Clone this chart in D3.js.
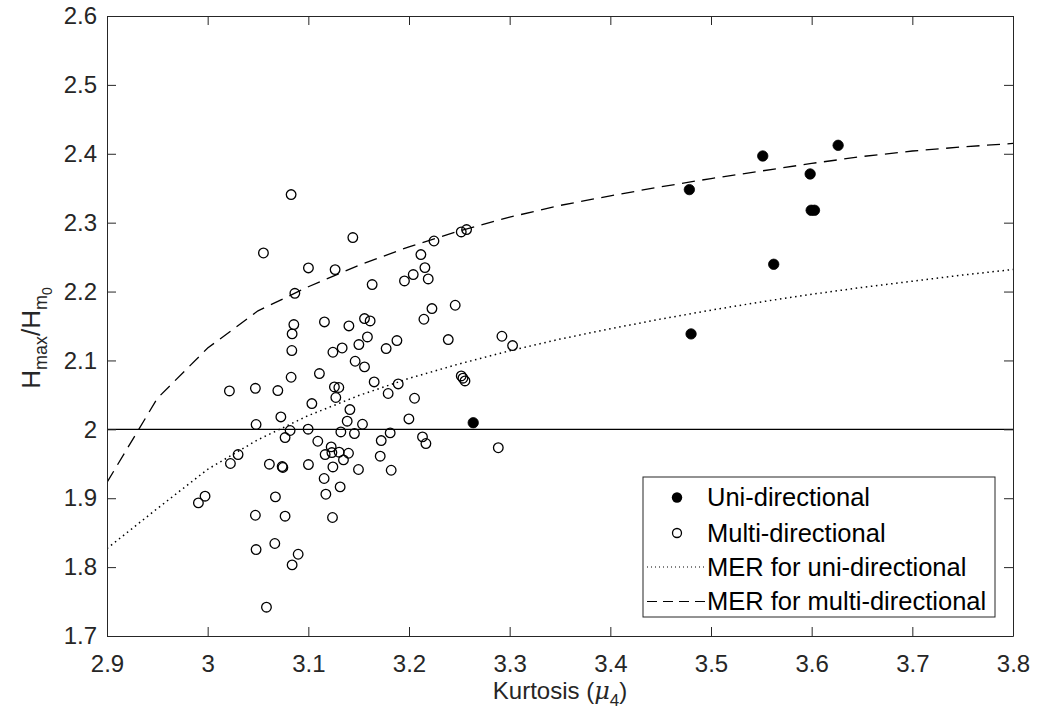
<!DOCTYPE html>
<html>
<head>
<meta charset="utf-8">
<script src="https://cdn.jsdelivr.net/npm/d3@7"></script>
<style>
  html, body { margin: 0; padding: 0; background: #fff; }
  svg { display: block; font-family: "Liberation Sans", Arial, Helvetica, sans-serif; }
</style>
</head>
<body>
<svg id="chart" width="1037" height="718"></svg>
<script>
// ---------------- data ----------------
const xTicks = [2.9, 3.0, 3.1, 3.2, 3.3, 3.4, 3.5, 3.6, 3.7, 3.8];
const xTickLabels = ["2.9", "3", "3.1", "3.2", "3.3", "3.4", "3.5", "3.6", "3.7", "3.8"];
const yTicks = [1.7, 1.8, 1.9, 2.0, 2.1, 2.2, 2.3, 2.4, 2.5, 2.6];
const yTickLabels = ["1.7", "1.8", "1.9", "2", "2.1", "2.2", "2.3", "2.4", "2.5", "2.6"];

const uniKurt  = [3.4785, 3.5514, 3.6263, 3.5985, 3.5995, 3.6028, 3.5623, 3.4802, 3.2638];
const uniRatio = [2.348, 2.3968, 2.4123, 2.3707, 2.318, 2.318, 2.2396, 2.1385, 2.0096];

const multiKurt = [
  3.0829, 3.1442, 3.0554, 3.1001, 3.1266, 3.1634, 3.0866, 3.0856, 3.0839, 3.1160,
  3.1403, 3.1558, 3.1614, 3.1587, 3.1502, 3.1336, 3.1244, 3.0836, 3.1465, 3.1558,
  3.1110, 3.0829, 3.0216, 3.0474, 3.0697, 3.1259, 3.1303, 3.1273, 3.1654, 3.1035,
  3.1413, 3.0727, 3.0481, 3.1386, 3.1538, 3.0819, 3.0998, 3.1323, 3.1458, 3.1724,
  3.0769, 3.1094, 3.1227, 3.1167, 3.1234, 3.1306, 3.1399, 3.1349, 3.1714, 3.0302,
  3.0226, 3.0613, 3.0740, 3.0747, 3.1001, 3.1244, 3.1498, 3.1157, 3.1316, 3.1174,
  2.9974, 2.9908, 3.0673, 3.0474, 3.0769, 3.1240, 3.0667, 3.0481, 3.0899, 3.0839,
  3.0584, 3.2118, 3.2248, 3.2519, 3.2572, 3.2158, 3.2042, 3.1955, 3.2191, 3.2228,
  3.2148, 3.2459, 3.1773, 3.1880, 3.2390, 3.2923, 3.3029, 3.1893, 3.1793, 3.2055,
  3.2519, 3.2536, 3.2556, 3.1999, 3.1813, 3.2134, 3.2168, 3.2887, 3.1823
];
const multiRatio = [
  2.3408, 2.2784, 2.2560, 2.2343, 2.2319, 2.2102, 2.1975, 2.1521, 2.1385, 2.1559,
  2.1501, 2.1608, 2.1573, 2.1341, 2.1231, 2.1181, 2.1119, 2.1144, 2.0988, 2.0906,
  2.0810, 2.0756, 2.0557, 2.0596, 2.0563, 2.0615, 2.0607, 2.0462, 2.0688, 2.0374,
  2.0287, 2.0180, 2.0070, 2.0118, 2.0074, 1.9983, 2.0002, 1.9962, 1.9939, 1.9837,
  1.9881, 1.9827, 1.9745, 1.9634, 1.9663, 1.9668, 1.9653, 1.9556, 1.9610, 1.9634,
  1.9504, 1.9494, 1.9460, 1.9446, 1.9489, 1.9454, 1.9417, 1.9286, 1.9164, 1.9058,
  1.9029, 1.8932, 1.9019, 1.8753, 1.8739, 1.8720, 1.8343, 1.8255, 1.8187, 1.8032,
  1.7418, 2.2537, 2.2734, 2.2865, 2.2900, 2.2348, 2.2247, 2.2154, 2.2183, 2.1753,
  2.1598, 2.1801, 2.1173, 2.1289, 2.1303, 2.1351, 2.1216, 2.0659, 2.0520, 2.0451,
  2.0775, 2.0742, 2.0702, 2.0151, 1.9948, 1.9890, 1.9794, 1.9733, 1.9406
];

const merKurt  = [2.9, 2.95, 3.0, 3.05, 3.1, 3.15, 3.2, 3.25, 3.3, 3.35, 3.4, 3.45, 3.5, 3.55, 3.6, 3.65, 3.7, 3.75, 3.8];
const merUni   = [1.827, 1.885, 1.942, 1.985, 2.020, 2.049, 2.074, 2.095, 2.114, 2.131, 2.146, 2.160, 2.173, 2.185, 2.196, 2.206, 2.215, 2.224, 2.232];
const merMulti = [1.923, 2.045, 2.118, 2.172, 2.207, 2.238, 2.265, 2.288, 2.308, 2.325, 2.339, 2.352, 2.364, 2.375, 2.386, 2.396, 2.404, 2.410, 2.415];

const refLine = 2.0;
const legendLabels = ["Uni-directional", "Multi-directional", "MER for uni-directional", "MER for multi-directional"];

// ---------------- layout ----------------
const L = 107, R = 1013, T = 16, B = 636;
const svg = d3.select("#chart");
const x = d3.scaleLinear().domain([2.9, 3.8]).range([L, R]);
const y = d3.scaleLinear().domain([1.7, 2.6]).range([B, T]);
const axisColor = "#262626";
const tickFont = 24;

svg.append("rect").attr("x", 0).attr("y", 0).attr("width", 1037).attr("height", 718).attr("fill", "#fff");

svg.append("clipPath").attr("id", "clip").append("rect")
  .attr("x", L).attr("y", T).attr("width", R - L).attr("height", B - T);

const plot = svg.append("g").attr("clip-path", "url(#clip)");

// reference line y = 2
plot.append("line")
  .attr("x1", x(2.9)).attr("x2", x(3.8))
  .attr("y1", y(refLine)).attr("y2", y(refLine))
  .attr("stroke", "#000").attr("stroke-width", 1.1);

// MER curves
const merLine = d3.line().x((d, i) => x(merKurt[i])).y(d => y(d));
plot.append("path").datum(merUni)
  .attr("d", merLine).attr("fill", "none")
  .attr("stroke", "#000").attr("stroke-width", 1.5)
  .attr("stroke-dasharray", "1.5,3.6");
plot.append("path").datum(merMulti)
  .attr("d", merLine).attr("fill", "none")
  .attr("stroke", "#000").attr("stroke-width", 1.3)
  .attr("stroke-dasharray", "13,7.5");

// multi points (open)
plot.append("g").selectAll("circle")
  .data(multiKurt.map((k, i) => [k, multiRatio[i]]))
  .join("circle")
  .attr("cx", d => x(d[0])).attr("cy", d => y(d[1]))
  .attr("r", 4.8)
  .attr("fill", "none").attr("stroke", "#000").attr("stroke-width", 1.3);

// uni points (filled)
plot.append("g").selectAll("circle")
  .data(uniKurt.map((k, i) => [k, uniRatio[i]]))
  .join("circle")
  .attr("cx", d => x(d[0])).attr("cy", d => y(d[1]))
  .attr("r", 5.2)
  .attr("fill", "#000").attr("stroke", "#000").attr("stroke-width", 0.8);

// axes
const tickLen = 9;
const xAxisB = d3.axisBottom(x).tickValues(xTicks).tickFormat((d, i) => xTickLabels[i]).tickSizeInner(-tickLen).tickSizeOuter(0).tickPadding(19);
const xAxisT = d3.axisTop(x).tickValues(xTicks).tickFormat("").tickSizeInner(-tickLen).tickSizeOuter(0);
const yAxisL = d3.axisLeft(y).tickValues(yTicks).tickFormat((d, i) => yTickLabels[i]).tickSizeInner(-tickLen).tickSizeOuter(0).tickPadding(10);
const yAxisR = d3.axisRight(y).tickValues(yTicks).tickFormat("").tickSizeInner(-tickLen).tickSizeOuter(0);

function styleAxis(g) {
  g.select(".domain").attr("stroke", axisColor).attr("stroke-width", 1);
  g.selectAll(".tick line").attr("stroke", axisColor).attr("stroke-width", 1);
  g.selectAll(".tick text").attr("fill", axisColor)
    .style("font-size", tickFont + "px")
    .style("font-family", '"Liberation Sans", Arial, sans-serif');
}
svg.append("g").attr("transform", `translate(0,${B})`).call(xAxisB).call(styleAxis);
svg.append("g").attr("transform", `translate(0,${T})`).call(xAxisT).call(styleAxis);
svg.append("g").attr("transform", `translate(${L},0)`).call(yAxisL).call(styleAxis);
svg.append("g").attr("transform", `translate(${R},0)`).call(yAxisR).call(styleAxis);

// x label
const xl = svg.append("text")
  .attr("x", (L + R) / 2).attr("y", 699)
  .attr("text-anchor", "middle")
  .attr("fill", axisColor)
  .style("font-size", "24px");
xl.append("tspan").text("Kurtosis (");
xl.append("tspan").text("\u03BC").style("font-style", "italic").style("font-family", '"DejaVu Serif", serif');
xl.append("tspan").text("4").attr("dy", 7).style("font-size", "17px");
xl.append("tspan").text(")").attr("dy", -7);

// y label
const yl = svg.append("text")
  .attr("transform", `translate(40,${(T + B) / 2 + 12}) rotate(-90)`)
  .attr("text-anchor", "middle")
  .attr("fill", axisColor)
  .style("font-size", "26px");
yl.append("tspan").text("H");
yl.append("tspan").text("max").attr("dy", 7).style("font-size", "18px");
yl.append("tspan").text("/H").attr("dy", -7);
yl.append("tspan").text("m").attr("dy", 7).style("font-size", "18px");
yl.append("tspan").text("0").attr("dy", 5).style("font-size", "14px");

// legend
const lg = svg.append("g");
const lgX = 643, lgY = 477, lgW = 352, lgH = 140;
lg.append("rect").attr("x", lgX).attr("y", lgY).attr("width", lgW).attr("height", lgH)
  .attr("fill", "#fff").attr("stroke", axisColor).attr("stroke-width", 1);
const rowY = [497.5, 533, 567, 601.5];
const textX = 707;
legendLabels.forEach((t, i) => {
  lg.append("text").attr("x", textX).attr("y", rowY[i]).attr("dy", "0.35em")
    .attr("fill", "#000").style("font-size", "25.5px").text(t);
});
lg.append("circle").attr("cx", 677).attr("cy", rowY[0]).attr("r", 5.2).attr("fill", "#000");
lg.append("circle").attr("cx", 677).attr("cy", rowY[1]).attr("r", 4.5).attr("fill", "none").attr("stroke", "#000").attr("stroke-width", 1.3);
lg.append("line").attr("x1", 647).attr("x2", 705).attr("y1", rowY[2]).attr("y2", rowY[2])
  .attr("stroke", "#000").attr("stroke-width", 1).attr("stroke-dasharray", "1,3");
lg.append("line").attr("x1", 647).attr("x2", 705).attr("y1", rowY[3]).attr("y2", rowY[3])
  .attr("stroke", "#000").attr("stroke-width", 1.2).attr("stroke-dasharray", "10,6");
</script>
</body>
</html>
